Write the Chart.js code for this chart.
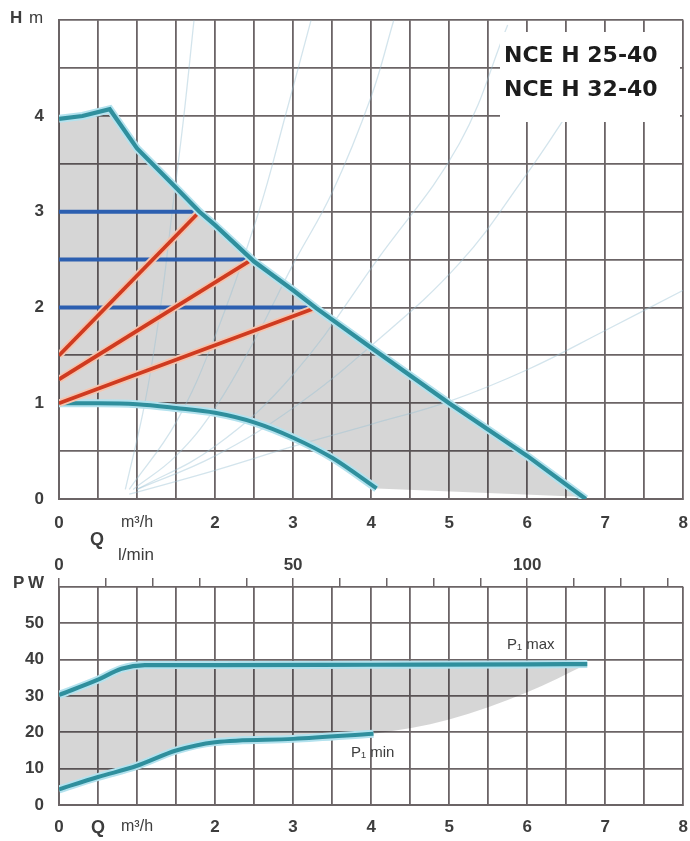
<!DOCTYPE html>
<html>
<head>
<meta charset="utf-8">
<script src="https://cdn.jsdelivr.net/npm/chart.js@4.4.1/dist/chart.umd.min.js"></script>
<style>
  body { margin: 0; background: #fff; overflow: hidden; }
  #wrap { position: relative; width: 690px; height: 841px; overflow: hidden; }
  canvas { position: absolute; left: 0; }
  #hq { top: -5px; }
  #pw { top: 525px; }
</style>
</head>
<body>
<div id="wrap">
  <canvas id="hq" width="702" height="565"></canvas>
  <canvas id="pw" width="700" height="316"></canvas>
</div>
<script>
// ---- H-Q graph (m, m3/h) ----
const qMax = [0, 0.3, 0.65, 1.0, 1.5, 1.8, 2.0, 2.5, 3.0, 3.3, 4.0, 5.0, 6.0, 6.75];
const hMax = [3.97, 4.0, 4.07, 3.66, 3.25, 3.0, 2.86, 2.48, 2.18, 1.99, 1.58, 1.0, 0.45, 0];
const qMin = [0, 0.5, 1.0, 1.5, 2.0, 2.5, 3.0, 3.5, 4.07];
const hMin = [1.0, 1.0, 0.99, 0.95, 0.9, 0.8, 0.64, 0.43, 0.11];
// bottom edge of the grey zone after the min curve
const qFloor = [6.75];
const hFloor = [0.02];

// constant pressure (blue) and proportional pressure (red)
const hConst = [3, 2.5, 2];
const qConst = [1.8, 2.47, 3.3];
const hProp0 = [1.5, 1.25, 1.0];

// faint system curves
const sysQ = [
  [0.85, 1.1, 1.3, 1.45, 1.6, 1.73],
  [0.9, 1.5, 2.0, 2.56, 2.9, 3.23],
  [0.95, 1.5, 2.0, 2.5, 3.0, 3.5, 4.0, 4.29],
  [1.0, 2.0, 3.0, 4.08, 5.13, 5.75],
  [1.0, 2.0, 3.0, 4.0, 5.13, 6.0, 6.5],
  [0.9, 2.0, 3.0, 4.0, 5.0, 6.0, 7.0, 8.0]
];
const sysH = [
  [0.1, 1.0, 2.0, 3.0, 4.0, 5.0],
  [0.1, 0.8, 1.7, 3.0, 4.0, 5.0],
  [0.1, 0.45, 0.95, 1.65, 2.45, 3.2, 4.2, 5.0],
  [0.1, 0.55, 1.3, 2.5, 3.71, 4.95],
  [0.1, 0.45, 0.95, 1.6, 2.46, 3.4, 4.0],
  [0.05, 0.3, 0.55, 0.78, 1.02, 1.35, 1.76, 2.18]
];

// ---- P-Q graph (W, m3/h) ----
const qPmax = [0, 0.5, 0.8, 1.1, 2, 4, 6, 6.77];
const pMax = [30.3, 34.5, 37.5, 38.5, 38.5, 38.6, 38.7, 38.8];
const qPmin = [0, 0.5, 1.0, 1.5, 2.0, 3.0, 4.03];
const pMin = [4.3, 7.7, 10.8, 15.0, 17.3, 18.2, 19.6];
const qPedge = [5, 6, 6.77];
const pEdge = [23.5, 31, 38.8];

// ticks
const hLabels = [0, 1, 2, 3, 4];
const pLabels = [0, 10, 20, 30, 40, 50];
const lpmLabels = [0, 50, 100];
const lpmMax = 8 * 1000 / 60;
const title = ['NCE H 25-40', 'NCE H 32-40'];

const gridCol = '#6b6466';
const textCol = '#3d3d3d';
const teal = '#2f8f9d';
const tealHalo = '#b3e2ee';
const sysCol = 'rgba(150,190,210,0.42)';
Chart.defaults.font.family = '"Liberation Sans", Arial, sans-serif';

const pts = (xs, ys) => xs.map((x, i) => ({ x: x, y: ys[i] }));
const line = (data, color, width, order, extra) => Object.assign({
  data: data, borderColor: color, borderWidth: width, pointRadius: 0,
  fill: false, tension: 0, order: order
}, extra || {});

const xTickFont = (c) => {
  const v = c.tick ? c.tick.value : 0;
  if (v === 1) return { size: 16, weight: 'normal' };
  if (v === 0.5) return { size: 18, weight: 'bold' };
  return { size: 17, weight: 'bold' };
};

// ---------- top chart ----------
const topDatasets = [
  line(pts(qMax, hMax), 'transparent', 0, 20, { fill: 1, backgroundColor: 'rgba(0,0,0,0.16)' }),
  line(pts(qMin.concat(qFloor), hMin.concat(hFloor)), 'transparent', 0, 19)
];
sysQ.forEach((q, i) => {
  topDatasets.push(line(pts(q, sysH[i]), sysCol, 1.3, 15, { tension: 0.4 }));
});
topDatasets.push(line(pts(qMin, hMin), tealHalo, 8, 9, { cubicInterpolationMode: 'monotone' }));
topDatasets.push(line(pts(qMin, hMin), teal, 4, 8, { cubicInterpolationMode: 'monotone' }));
hConst.forEach((h, i) => {
  topDatasets.push(line([{ x: 0, y: h }, { x: qConst[i], y: h }], '#2c5fb0', 4, 6));
  topDatasets.push(line([{ x: 0, y: hProp0[i] }, { x: qConst[i], y: h }], '#f4c4ae', 7.5, 5));
  topDatasets.push(line([{ x: 0, y: hProp0[i] }, { x: qConst[i], y: h }], '#cf3b20', 3.8, 4));
});
topDatasets.push(line(pts(qMax, hMax), tealHalo, 8, 3));
topDatasets.push(line(pts(qMax, hMax), teal, 4.2, 2));

// canvas is shifted 5px up, so page y + 5
const topText = {
  id: 'topText',
  afterDatasetsDraw(chart) {
    const c = chart.ctx;
    c.save();
    c.fillStyle = '#fff';
    c.fillRect(500, 37, 180, 90);
    c.fillStyle = '#1c1c1c';
    c.textBaseline = 'middle';
    c.font = 'bold 22px "DejaVu Sans"';
    c.fillText(title[0], 504, 61);
    c.fillText(title[1], 504, 95);
    c.fillStyle = textCol;
    c.font = 'bold 17px "Liberation Sans"';
    c.fillText('H', 10, 23);
    c.font = '17px "Liberation Sans"';
    c.fillText('m', 29, 23);
    c.font = 'bold 18px "Liberation Sans"';
    c.fillText('Q', 90, 545);
    c.font = '17px "Liberation Sans"';
    c.fillText('l/min', 118, 560);
    c.restore();
  }
};

new Chart(document.getElementById('hq'), {
  type: 'line',
  data: { datasets: topDatasets },
  plugins: [topText],
  options: {
    responsive: false,
    animation: false,
    layout: { padding: 0 },
    plugins: { legend: { display: false }, tooltip: { enabled: false } },
    scales: {
      x: {
        type: 'linear', min: 0, max: 8,
        afterFit: (s) => { s.height = 61; },
        ticks: {
          stepSize: 0.5, autoSkip: false, maxRotation: 0, padding: 14, color: textCol,
          font: xTickFont,
          callback: (v) => v === 1 ? 'm³/h' : (v === 0.5 ? '' : (Number.isInteger(v) ? String(v) : ''))
        },
        grid: { color: gridCol, lineWidth: 1.8, drawTicks: false },
        border: { color: gridCol, width: 2 }
      },
      y: {
        type: 'linear', min: 0, max: 5,
        afterFit: (s) => { s.width = 59; },
        ticks: {
          stepSize: 0.5, autoSkip: false, padding: 15, color: textCol,
          font: { size: 17, weight: 'bold' },
          callback: (v) => hLabels.includes(v) ? String(v) : ''
        },
        grid: { color: gridCol, lineWidth: 1.8, drawTicks: false },
        border: { color: gridCol, width: 2 }
      }
    }
  }
});

// ---------- bottom chart ----------
const grayP = pts(qPmax, pMax);
const grayPlow = pts(qPmin, pMin).concat(pts(qPedge, pEdge));
const botDatasets = [
  line(grayP, 'transparent', 0, 20, { fill: 1, backgroundColor: 'rgba(0,0,0,0.16)', cubicInterpolationMode: 'monotone' }),
  line(grayPlow, 'transparent', 0, 19, { cubicInterpolationMode: 'monotone' }),
  line(pts(qPmin, pMin), tealHalo, 8, 9, { cubicInterpolationMode: 'monotone' }),
  line(pts(qPmin, pMin), teal, 4, 8, { cubicInterpolationMode: 'monotone' }),
  line(pts(qPmax, pMax), tealHalo, 8, 7, { cubicInterpolationMode: 'monotone' }),
  line(pts(qPmax, pMax), teal, 4.2, 6, { cubicInterpolationMode: 'monotone' })
];

const botText = {
  id: 'botText',
  afterDatasetsDraw(chart) {
    const c = chart.ctx;
    c.save();
    c.fillStyle = textCol;
    c.textBaseline = 'middle';
    c.font = 'bold 17px "Liberation Sans"';
    c.fillText('P', 13, 58);
    c.fillText('W', 28, 58);
    c.font = '15px "Liberation Sans"';
    c.fillText('P\u2081 max', 507, 120);
    c.fillText('P\u2081 min', 351, 228);
    c.restore();
  }
};

new Chart(document.getElementById('pw'), {
  type: 'line',
  data: { datasets: botDatasets },
  plugins: [botText],
  options: {
    responsive: false,
    animation: false,
    layout: { padding: 0 },
    plugins: { legend: { display: false }, tooltip: { enabled: false } },
    scales: {
      x: {
        type: 'linear', position: 'bottom', min: 0, max: 8,
        afterFit: (s) => { s.height = 36; },
        ticks: {
          stepSize: 0.5, autoSkip: false, maxRotation: 0, padding: 12, color: textCol,
          font: xTickFont,
          callback: (v) => v === 0.5 ? 'Q' : (v === 1 ? 'm³/h' : (Number.isInteger(v) ? String(v) : ''))
        },
        grid: { color: gridCol, lineWidth: 1.8, drawTicks: false },
        border: { color: gridCol, width: 2 }
      },
      x2: {
        type: 'linear', position: 'top', min: 0, max: lpmMax,
        afterFit: (s) => { s.height = 62; },
        ticks: {
          stepSize: 10, autoSkip: false, maxRotation: 0, includeBounds: false, padding: 2, color: textCol,
          font: { size: 17, weight: 'bold' },
          callback: (v) => lpmLabels.includes(v) ? String(v) : ''
        },
        grid: { drawOnChartArea: false, drawTicks: true, tickLength: 9, color: gridCol, lineWidth: 1.5 },
        border: { display: false }
      },
      y: {
        type: 'linear', min: 0, max: 60,
        afterFit: (s) => { s.width = 59; },
        ticks: {
          stepSize: 10, autoSkip: false, padding: 15, color: textCol,
          font: { size: 17, weight: 'bold' },
          callback: (v) => pLabels.includes(v) ? String(v) : ''
        },
        grid: { color: gridCol, lineWidth: 1.8, drawTicks: false },
        border: { color: gridCol, width: 2 }
      }
    }
  }
});
</script>
</body>
</html>
